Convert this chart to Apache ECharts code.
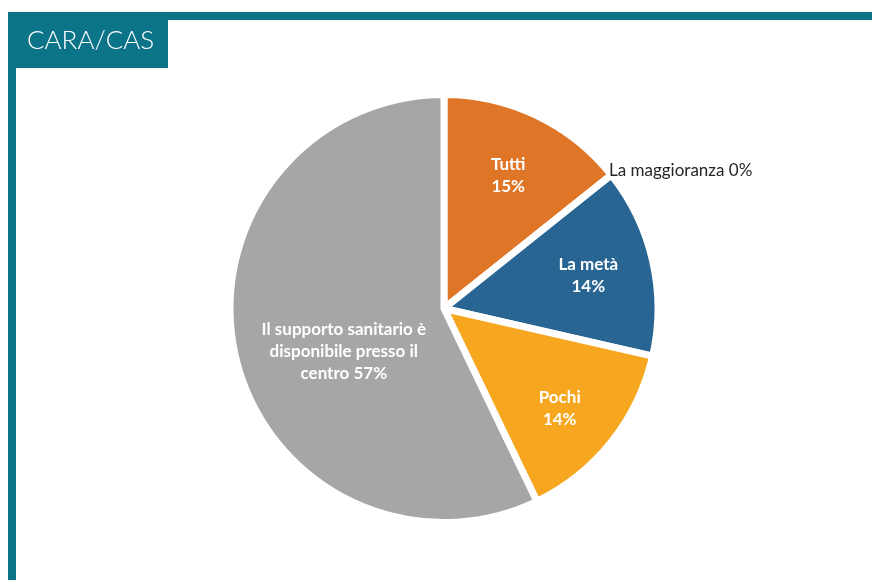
<!DOCTYPE html>
<html>
<head>
<meta charset="utf-8">
<script src="https://cdn.jsdelivr.net/npm/echarts@6/dist/echarts.min.js"></script>
<style>
html,body{margin:0;padding:0;background:#fff;}
#chart{width:872px;height:580px;}
</style>
</head>
<body>
<div id="chart"></div>
<script>
// Data
const title = 'CARA/CAS';
const categories = ['Tutti', 'La maggioranza', 'La metà', 'Pochi', 'Il supporto sanitario è\ndisponibile presso il\ncentro'];
const counts = [1, 0, 1, 1, 4];
const percentLabels = [15, 0, 14, 14, 57];
const colors = ['#DF7627', '#286592', '#286592', '#F6A71F', '#A6A6A6'];

const teal = '#0C7489';
const chart = echarts.init(document.getElementById('chart'));

const labelText = i => categories[i] + (i === 4 ? ' ' : '\n') + percentLabels[i] + '%';

const mainData = categories.map((c, i) => {
  const item = { name: c, value: counts[i], itemStyle: { color: colors[i] } };
  if (counts[i] === 0) {
    item.label = {
      show: true, position: 'outside', color: '#262626', fontSize: 17,
      fontFamily: 'Lato', fontWeight: 'normal',
      formatter: c + ' ' + percentLabels[i] + '%', offset: [-12, -1]
    };
  }
  return item;
});

// overlay for the small slices' labels (placed further out), and one for the large slice
const overlayOuter = categories.map((c, i) => ({
  name: c, value: counts[i],
  label: { show: counts[i] !== 0 && i !== 4, offset: i === 3 ? [0, 8] : [0, 0] }
}));
const overlayInner = categories.map((c, i) => ({
  name: c, value: counts[i],
  label: { show: i === 4, offset: [9, 18] }
}));

const labelStyle = {
  show: true, position: 'inside', color: '#fff', fontSize: 17,
  fontFamily: 'Lato', fontWeight: 'bold', lineHeight: 22, align: 'center',
  formatter: p => labelText(p.dataIndex)
};

const overlaySeries = (radius, data) => ({
  type: 'pie',
  silent: true,
  center: [444, 308.5],
  radius: radius,
  startAngle: 90,
  clockwise: true,
  avoidLabelOverlap: false,
  itemStyle: { color: 'transparent', borderWidth: 0 },
  label: labelStyle,
  labelLine: { show: false },
  emphasis: { disabled: true },
  data: data
});

chart.setOption({
  animation: false,
  graphic: [
    { type: 'rect', shape: { x: 8, y: 12, width: 864, height: 8 }, style: { fill: teal } },
    { type: 'rect', shape: { x: 8, y: 12, width: 8, height: 568 }, style: { fill: teal } },
    { type: 'rect', shape: { x: 8, y: 12, width: 160, height: 56 }, style: { fill: teal } },
    { type: 'text', x: 27, y: 41, style: { text: title, fill: '#fff', font: '300 26px Lato', textVerticalAlign: 'middle' } }
  ],
  series: [
    {
      type: 'pie',
      center: [444, 308.5],
      radius: 214,
      startAngle: 90,
      clockwise: true,
      avoidLabelOverlap: false,
      stillShowZeroSum: true,
      label: { show: false },
      labelLine: { show: false, length: 6, length2: 0 },
      itemStyle: { borderColor: '#fff', borderWidth: 7 },
      emphasis: { disabled: true },
      data: mainData
    },
    overlaySeries([76, 214], overlayOuter),
    overlaySeries([4, 214], overlayInner)
  ]
});
</script>
</body>
</html>
